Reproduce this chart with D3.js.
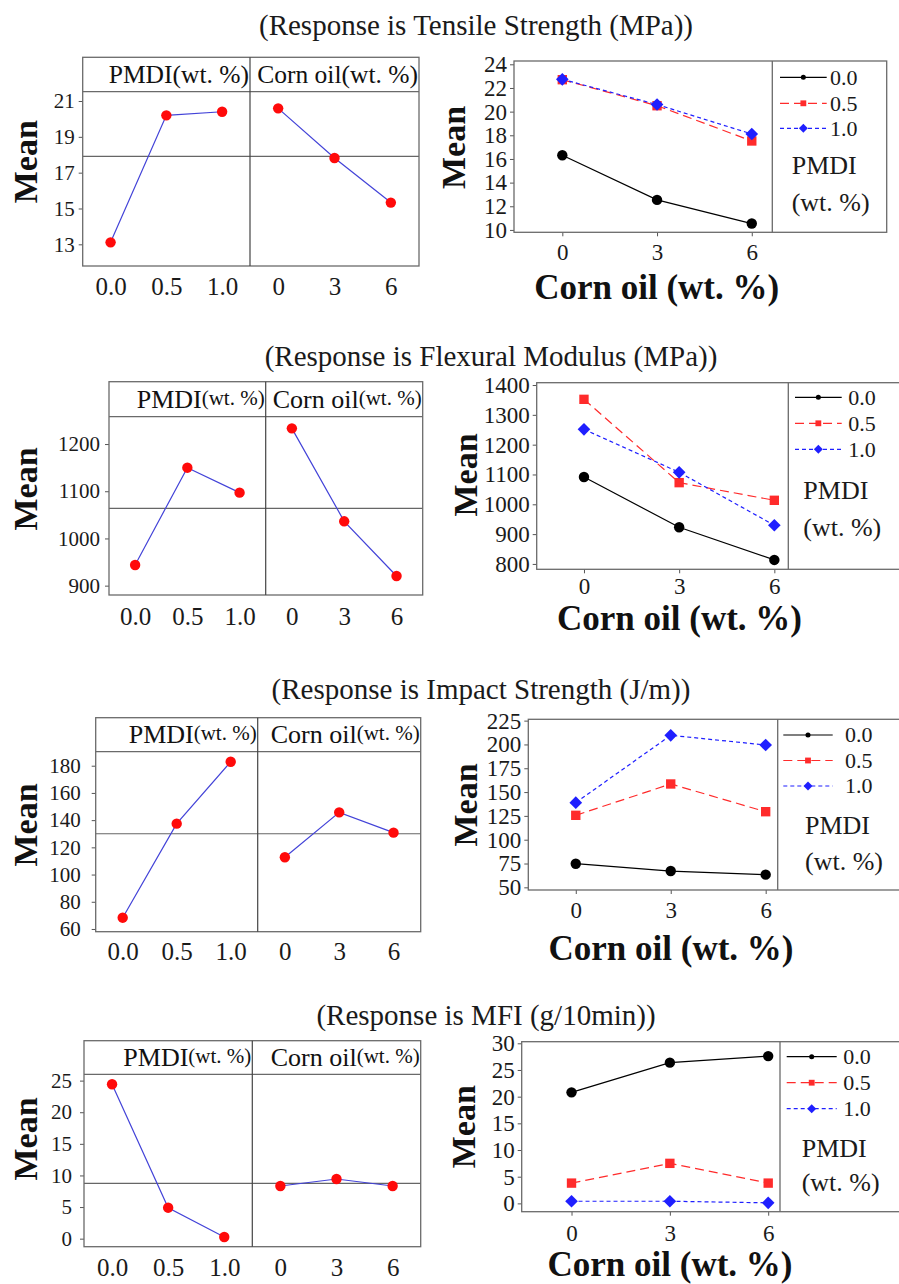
<!DOCTYPE html>
<html>
<head>
<meta charset="utf-8">
<script src="https://cdn.jsdelivr.net/npm/d3@7"></script>
<style>
  html, body { margin: 0; padding: 0; background: #fff; }
  svg { display: block; }
  svg text { font-family: "Liberation Serif", "Times New Roman", Times, serif; }
</style>
</head>
<body>
<svg id="chart" width="899" height="1284"></svg>
<script>
// ---------- data ----------
const pmdiLevels = ["0.0", "0.5", "1.0"];
const cornOilLevels = ["0", "3", "6"];
const cornOilValues = [0, 3, 6];
const responseNames = ["Tensile Strength (MPa)", "Flexural Modulus (MPa)", "Impact Strength (J/m)", "MFI (g/10min)"];

// main effects: mean response at each factor level
const tensilePmdiMeans = [13.11, 20.2, 20.4];
const tensileCornMeans = [20.59, 17.82, 15.33];
const flexuralPmdiMeans = [943.8, 1149.9, 1097.0];
const flexuralCornMeans = [1233.2, 1036.3, 920.5];
const impactPmdiMeans = [68.3, 137.4, 182.9];
const impactCornMeans = [112.7, 145.7, 130.8];
const mfiPmdiMeans = [24.42, 4.9, 0.26];
const mfiCornMeans = [8.33, 9.44, 8.33];
const grandMeans = [17.91, 1063.7, 130.0, 8.76];

// interactions: one series per PMDI level, values at corn oil 0 / 3 / 6 wt.%
const tensileByPmdi = [[16.31, 12.54, 10.54], [22.7, 20.5, 17.52], [22.73, 20.6, 18.11]];
const flexuralByPmdi = [[1091.6, 922.9, 813.4], [1352.0, 1072.6, 1013.4], [1251.4, 1107.3, 929.6]];
const impactByPmdi = [[74.8, 67.1, 63.3], [125.6, 158.5, 129.4], [138.9, 209.6, 199.4]];
const mfiByPmdi = [[20.81, 26.37, 27.6], [3.8, 7.5, 3.8], [0.4, 0.4, 0.1]];

// tick labels
const mainTicks = [[13, 15, 17, 19, 21], [900, 1000, 1100, 1200], [60, 80, 100, 120, 140, 160, 180], [0, 5, 10, 15, 20, 25]];
const interTicks = [[10, 12, 14, 16, 18, 20, 22, 24], [800, 900, 1000, 1100, 1200, 1300, 1400],
                    [50, 75, 100, 125, 150, 175, 200, 225], [0, 5, 10, 15, 20, 25, 30]];

const rows = [
  { pmdi: tensilePmdiMeans, corn: tensileCornMeans, inter: tensileByPmdi },
  { pmdi: flexuralPmdiMeans, corn: flexuralCornMeans, inter: flexuralByPmdi },
  { pmdi: impactPmdiMeans, corn: impactCornMeans, inter: impactByPmdi },
  { pmdi: mfiPmdiMeans, corn: mfiCornMeans, inter: mfiByPmdi }
].map((r, i) => ({ ...r, name: responseNames[i], grand: grandMeans[i], mTicks: mainTicks[i], iTicks: interTicks[i] }));

// ---------- layout ----------
const layout = [
  { title: [476, 35],
    left: { L: 82.7, R: 419, top: 57.3, hb: 91.7, bot: 266, div: 250, y: [11.79, 21.52], xb: 295, pad: 4, meanX: 36.5, meanY: 161.7, small: false },
    right: { L: 514, div: 772.3, R: 886.7, top: 61, bot: 232.3, y: [9.8, 24.28], x: [-1.53, 6.65], xb: 260.5, lab: [656.7, 298.5],
             meanX: 465, meanY: 147.5, leg: { x0: 780, x1: 826.7, tx: 830, ys: [77.3, 103.3, 128.3], px: 791.7, py: [165, 201.7] } } },
  { title: [491, 365.5],
    left: { L: 109, R: 422.7, top: 381.7, hb: 416.7, bot: 595, div: 265.7, y: [880.2, 1257.9], xb: 625, pad: 5, meanX: 36.5, meanY: 489, small: true },
    right: { L: 536.7, div: 788.3, R: 905, top: 382.7, bot: 569.3, y: [782, 1407.8], x: [-1.49, 6.44], xb: 594, lab: [679.5, 630],
             meanX: 476.7, meanY: 475, leg: { x0: 795, x1: 841.7, tx: 848.3, ys: [397.3, 423.3, 449.3], px: 803.3, py: [490, 526.7] } } },
  { title: [481, 699],
    left: { L: 95.7, R: 420.7, top: 717.7, hb: 751.7, bot: 931.7, div: 257.7, y: [58, 190.3], xb: 960, pad: 11, meanX: 36.5, meanY: 825, small: true },
    right: { L: 528.3, div: 777.7, R: 905, top: 719.3, bot: 890, y: [47.2, 226.4], x: [-1.5, 6.38], xb: 917.5, lab: [671, 959.5],
             meanX: 476.7, meanY: 805, leg: { x0: 783.3, x1: 832.7, tx: 845, ys: [735, 760.5, 786], px: 805, py: [825, 860.7] } } },
  { title: [486, 1025],
    left: { L: 84, R: 420.7, top: 1040.7, hb: 1074.3, bot: 1246.7, div: 252.3, y: [-1.27, 26.0], xb: 1276, pad: 8, meanX: 36.5, meanY: 1139, small: true },
    right: { L: 521.7, div: 780, R: 905, top: 1041.7, bot: 1211.7, y: [-1.56, 30.3], x: [-1.52, 6.36], xb: 1241.5, lab: [670, 1275.5],
             meanX: 475, meanY: 1126.7, leg: { x0: 786.7, x1: 836.7, tx: 843.3, ys: [1056.7, 1082.7, 1108.7], px: 801.7, py: [1148.3, 1181.7] } } }
];

// ---------- styles ----------
const FONT = '"Liberation Serif", "Times New Roman", Times, serif';
const BOX = "#6a6a6a";
const seriesColor = ["#000000", "#ff2b2b", "#1f1fff"];
const seriesDash = [null, "9,5", "4,3"];
const squareDiamond = {
  draw(ctx, size) {
    const r = Math.sqrt(size / 2);
    ctx.moveTo(0, -r); ctx.lineTo(r, 0); ctx.lineTo(0, r); ctx.lineTo(-r, 0); ctx.closePath();
  }
};
const seriesSymbol = [d3.symbolCircle, d3.symbolSquare, squareDiamond];
const markerSize = [85, 88, 80];
const legendMarkerSize = [20, 34, 40];

const svg = d3.select("#chart");
svg.append("rect").attr("width", 899).attr("height", 1284).attr("fill", "#fff");

function styleAxis(g, fs) {
  g.attr("font-family", FONT).attr("font-size", fs);
  g.select(".domain").remove();
  g.selectAll(".tick line").attr("stroke", "#555");
  g.selectAll(".tick text").attr("fill", "#1a1a1a").attr("font-family", FONT).attr("font-size", fs);
}

function meanLabel(x, y) {
  svg.append("text")
    .attr("transform", `translate(${x},${y}) rotate(-90)`)
    .attr("text-anchor", "middle")
    .attr("font-family", FONT).attr("font-size", 34).attr("font-weight", "bold")
    .attr("fill", "#111")
    .text("Mean");
}

rows.forEach((row, i) => {
  const lay = layout[i];

  // title
  svg.append("text")
    .attr("x", lay.title[0]).attr("y", lay.title[1])
    .attr("text-anchor", "middle")
    .attr("font-family", FONT).attr("font-size", 29).attr("fill", "#1a1a1a")
    .text(`(Response is ${row.name})`);

  // ---- main effects panel ----
  const a = lay.left;
  const g = svg.append("g");
  const y = d3.scaleLinear().domain(a.y).range([a.bot, a.hb]);
  const xP = d3.scalePoint().domain(pmdiLevels).range([a.L, a.div]).padding(0.5);
  const xC = d3.scalePoint().domain(cornOilLevels).range([a.div, a.R]).padding(0.5);

  g.append("line").attr("x1", a.L).attr("x2", a.R).attr("y1", y(row.grand)).attr("y2", y(row.grand))
    .attr("stroke", "#666").attr("stroke-width", 1.2);

  const yAx = g.append("g").attr("transform", `translate(${a.L},0)`)
    .call(d3.axisLeft(y).tickValues(row.mTicks).tickSize(4).tickPadding(a.pad).tickFormat(d3.format("d")));
  styleAxis(yAx, 21);

  [[xP, pmdiLevels, row.pmdi], [xC, cornOilLevels, row.corn]].forEach(([xs, levels, vals]) => {
    const pts = levels.map((l, k) => [xs(l), y(vals[k])]);
    g.append("path").attr("d", d3.line()(pts)).attr("fill", "none")
      .attr("stroke", "#4343d8").attr("stroke-width", 1.2);
    g.selectAll(null).data(pts).join("circle")
      .attr("cx", d => d[0]).attr("cy", d => d[1]).attr("r", 5.2).attr("fill", "#ff0a0a");
    const xa = g.append("g").attr("transform", `translate(0,${a.bot})`)
      .call(d3.axisBottom(xs).tickSize(0));
    styleAxis(xa, 25);
    xa.selectAll(".tick text").attr("dy", null).attr("y", a.xb - a.bot);
  });

  // frame, header strip and divider
  g.append("rect").attr("x", a.L).attr("y", a.top).attr("width", a.R - a.L).attr("height", a.bot - a.top)
    .attr("fill", "none").attr("stroke", BOX).attr("stroke-width", 1.3);
  g.append("line").attr("x1", a.L).attr("x2", a.R).attr("y1", a.hb).attr("y2", a.hb).attr("stroke", BOX).attr("stroke-width", 1.3);
  g.append("line").attr("x1", a.div).attr("x2", a.div).attr("y1", a.top).attr("y2", a.bot).attr("stroke", "#444").attr("stroke-width", 1.2);

  [["PMDI", a.div - 1], ["Corn oil", a.R - 1]].forEach(([lbl, xe]) => {
    const t = g.append("text").attr("x", xe).attr("y", a.hb - 8.5).attr("text-anchor", "end")
      .attr("font-family", FONT).attr("font-size", a.small ? 26 : 25.5).attr("fill", "#111");
    t.append("tspan").text(lbl);
    const s = t.append("tspan").text("(wt. %)");
    if (a.small) s.attr("font-size", 21).attr("dy", -3);
  });

  meanLabel(a.meanX, a.meanY);

  // ---- interaction panel ----
  const b = lay.right;
  const h = svg.append("g");
  const yI = d3.scaleLinear().domain(b.y).range([b.bot, b.top]);
  const xI = d3.scaleLinear().domain(b.x).range([b.L, b.div]);

  const yAxI = h.append("g").attr("transform", `translate(${b.L},0)`)
    .call(d3.axisLeft(yI).tickValues(row.iTicks).tickSize(4).tickPadding(3).tickFormat(d3.format("d")));
  styleAxis(yAxI, 23);
  const xAxI = h.append("g").attr("transform", `translate(0,${b.bot})`)
    .call(d3.axisBottom(xI).tickValues(cornOilValues).tickSize(4).tickFormat(d3.format("d")));
  styleAxis(xAxI, 23);
  xAxI.selectAll(".tick text").attr("dy", null).attr("y", b.xb - b.bot);

  row.inter.forEach((vals, s) => {
    const pts = cornOilValues.map((c, k) => [xI(c), yI(vals[k])]);
    h.append("path").attr("d", d3.line()(pts)).attr("fill", "none")
      .attr("stroke", seriesColor[s]).attr("stroke-width", 1.2)
      .attr("stroke-dasharray", seriesDash[s]);
    h.selectAll(null).data(pts).join("path")
      .attr("transform", d => `translate(${d[0]},${d[1]})`)
      .attr("d", d3.symbol(seriesSymbol[s], markerSize[s]))
      .attr("fill", seriesColor[s]);
  });

  h.append("rect").attr("x", b.L).attr("y", b.top).attr("width", b.R - b.L).attr("height", b.bot - b.top)
    .attr("fill", "none").attr("stroke", BOX).attr("stroke-width", 1.3);
  h.append("line").attr("x1", b.div).attr("x2", b.div).attr("y1", b.top).attr("y2", b.bot)
    .attr("stroke", BOX).attr("stroke-width", 1.3);

  // legend
  const lg = b.leg;
  pmdiLevels.forEach((lvl, s) => {
    const ly = lg.ys[s];
    h.append("line").attr("x1", lg.x0).attr("x2", lg.x1).attr("y1", ly).attr("y2", ly)
      .attr("stroke", seriesColor[s]).attr("stroke-width", 1.2).attr("stroke-dasharray", seriesDash[s]);
    h.append("path").attr("transform", `translate(${(lg.x0 + lg.x1) / 2},${ly})`)
      .attr("d", d3.symbol(seriesSymbol[s], legendMarkerSize[s])).attr("fill", seriesColor[s]);
    h.append("text").attr("x", lg.tx).attr("y", ly).attr("dy", "0.34em")
      .attr("font-family", FONT).attr("font-size", 22).attr("fill", "#1a1a1a").text(lvl);
  });
  ["PMDI", "(wt. %)"].forEach((t, k) => {
    h.append("text").attr("x", lg.px).attr("y", lg.py[k]).attr("dy", "0.34em")
      .attr("font-family", FONT).attr("font-size", 26).attr("fill", "#1a1a1a").text(t);
  });

  h.append("text").attr("x", b.lab[0]).attr("y", b.lab[1]).attr("text-anchor", "middle")
    .attr("font-family", FONT).attr("font-size", 35).attr("font-weight", "bold").attr("fill", "#111")
    .text("Corn oil (wt. %)");

  meanLabel(b.meanX, b.meanY);
});
</script>
</body>
</html>
